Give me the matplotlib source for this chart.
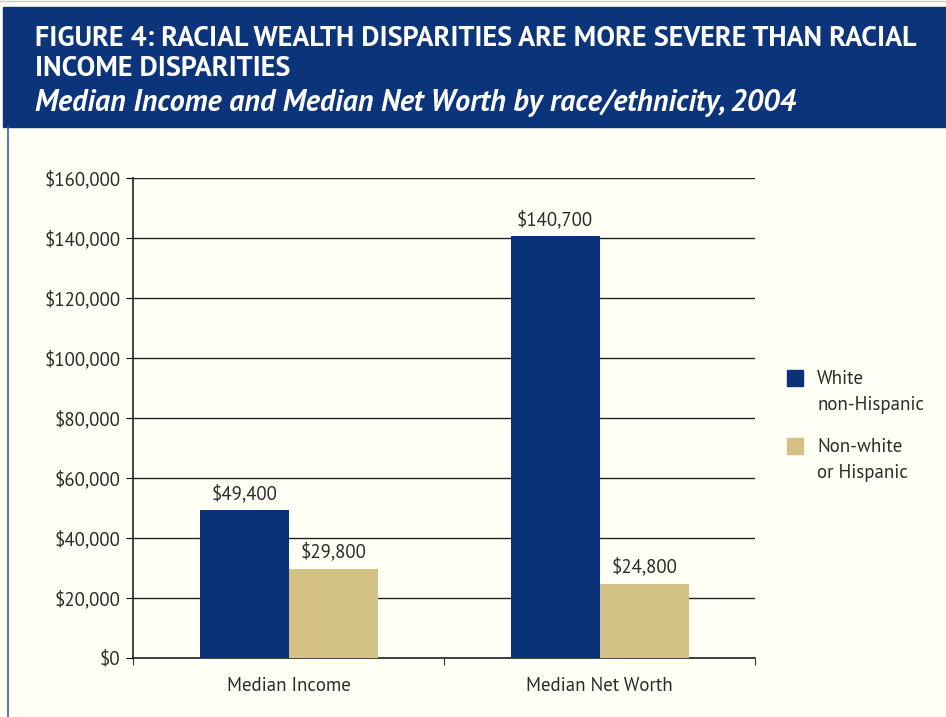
import numpy as np
import matplotlib
matplotlib.use('Agg')
import matplotlib.pyplot as plt
from matplotlib import font_manager
from matplotlib.patches import Rectangle
from matplotlib.lines import Line2D
from matplotlib.ticker import FuncFormatter

# data
categories = ['Median Income', 'Median Net Worth']
groups = ['White\nnon-Hispanic', 'Non-white\nor Hispanic']
white = [49400, 140700]
nonwhite = [29800, 24800]
title = 'FIGURE 4: RACIAL WEALTH DISPARITIES ARE MORE SEVERE THAN RACIAL\nINCOME DISPARITIES'
subtitle = 'Median Income and Median Net Worth by race/ethnicity, 2004'

navy = '#0a3278'
tan = '#d3c185'
bg = '#fffff5'
txt = '#2b2b2b'


def _w(v):
    return font_manager.weight_dict.get(v, 400) if isinstance(v, str) else v


def pick_font(cands):
    # need a real regular and a real bold face (variable fonts render too thin)
    for fam, st in cands:
        faces = [f for f in font_manager.fontManager.ttflist
                 if f.name == fam and f.stretch == st and f.style == 'normal']
        if any(_w(f.weight) == 400 for f in faces) and any(_w(f.weight) >= 600 for f in faces):
            return fam, st
    return 'Liberation Sans', 'normal'


family, stretch = pick_font([('Myriad Pro', 'normal'), ('Source Sans 3', 'normal'),
                             ('Source Sans Pro', 'normal'), ('PT Sans', 'normal'),
                             ('Noto Sans', 'semi-condensed'), ('Noto Sans SemiCondensed', 'normal'),
                             ('Open Sans', 'semi-condensed'), ('Open Sans SemiCondensed', 'normal'),
                             ('Fira Sans Condensed', 'normal'), ('Roboto Condensed', 'normal'),
                             ('Noto Sans', 'condensed'), ('Liberation Sans Narrow', 'normal')])
plt.rcParams['font.family'] = [family, 'DejaVu Sans']
plt.rcParams['font.stretch'] = stretch

fig = plt.figure(figsize=(9.46, 7.17), dpi=100, facecolor=bg)
renderer = fig.canvas.get_renderer()


def fit_size(s, width, **kw):
    # font size giving the text the wanted pixel width
    t = fig.text(0, 0, s, fontsize=10, **kw)
    w = t.get_window_extent(renderer).width
    t.remove()
    return 10 * width / w


def px(x, y):
    # pixel position (from top-left) -> figure fraction
    return x / 946, 1 - y / 717


fs = fit_size('Median Income', 124)
fs_title = fit_size(title.split('\n')[0], 885, fontweight='bold')
fs_sub = fit_size(subtitle, 762, fontweight='bold', style='italic')

# header band + left border
fig.patches.append(Rectangle(px(3, 127), 1, 120 / 717,
                             transform=fig.transFigure, color='#0b347a', zorder=0))
fig.lines.append(Line2D([7.5 / 946, 7.5 / 946], [0, 1 - 127 / 717],
                        transform=fig.transFigure, color='#3a5da0', lw=1.2))
fig.lines.append(Line2D([0, 1], [1 - 1 / 717, 1 - 1 / 717],
                        transform=fig.transFigure, color='#c8ccd4', lw=1))
fig.text(*px(35, 54), title, color='white', fontsize=fs_title,
         fontweight='bold', va='center', ha='left', linespacing=1.18)
fig.text(*px(35, 103), subtitle, color='white', fontsize=fs_sub,
         fontweight='bold', style='italic', va='center', ha='left')

ax = fig.add_axes([133 / 946, 59 / 717, 622 / 946, 480 / 717])
ax.set_facecolor(bg)

x = np.arange(len(categories))
w = 89 / 311
b1 = ax.bar(x - w / 2, white, w, color=navy, zorder=3, label=groups[0])
b2 = ax.bar(x + w / 2, nonwhite, w, color=tan, zorder=3, label=groups[1])

for bars in (b1, b2):
    for r in bars:
        v = r.get_height()
        ax.annotate('${:,.0f}'.format(v), (r.get_x() + r.get_width() / 2, v),
                    xytext=(0, 5), textcoords='offset points', ha='center',
                    va='bottom', fontsize=fs, color=txt)

ax.set_xlim(-0.5, 1.5)
ax.set_ylim(0, 160000)
ax.set_yticks(np.arange(0, 160001, 20000))
ax.yaxis.set_major_formatter(FuncFormatter(lambda v, p: '${:,.0f}'.format(v)))
ax.set_xticks([-0.5, 0.5, 1.5])
ax.set_xticklabels([])
ax.set_xticks(x, minor=True)
ax.set_xticklabels(categories, minor=True)
ax.tick_params(axis='x', which='minor', length=0, pad=14, labelsize=fs, labelcolor=txt)
ax.tick_params(axis='x', which='major', length=5, direction='out', color='#333333')
ax.tick_params(axis='y', length=5, direction='out', labelsize=fs, labelcolor=txt, pad=4)
ax.grid(axis='y', color='#222222', lw=1, zorder=1)
for s in ['top', 'right']:
    ax.spines[s].set_visible(False)
for s in ['left', 'bottom']:
    ax.spines[s].set_color('#222222')
    ax.spines[s].set_linewidth(1.2)

# legend: square next to first line of each two-line label
for i, (lab, col) in enumerate(zip(groups, [navy, tan])):
    y0 = 370 + 68 * i
    fig.patches.append(Rectangle(px(787, y0 + 16), 16 / 946, 16 / 717,
                                 transform=fig.transFigure, color=col))
    fig.text(*px(817, y0), lab, fontsize=fs, color=txt, va='top', ha='left',
             linespacing=1.55)

fig.savefig('out.png', dpi=100, facecolor=bg)
